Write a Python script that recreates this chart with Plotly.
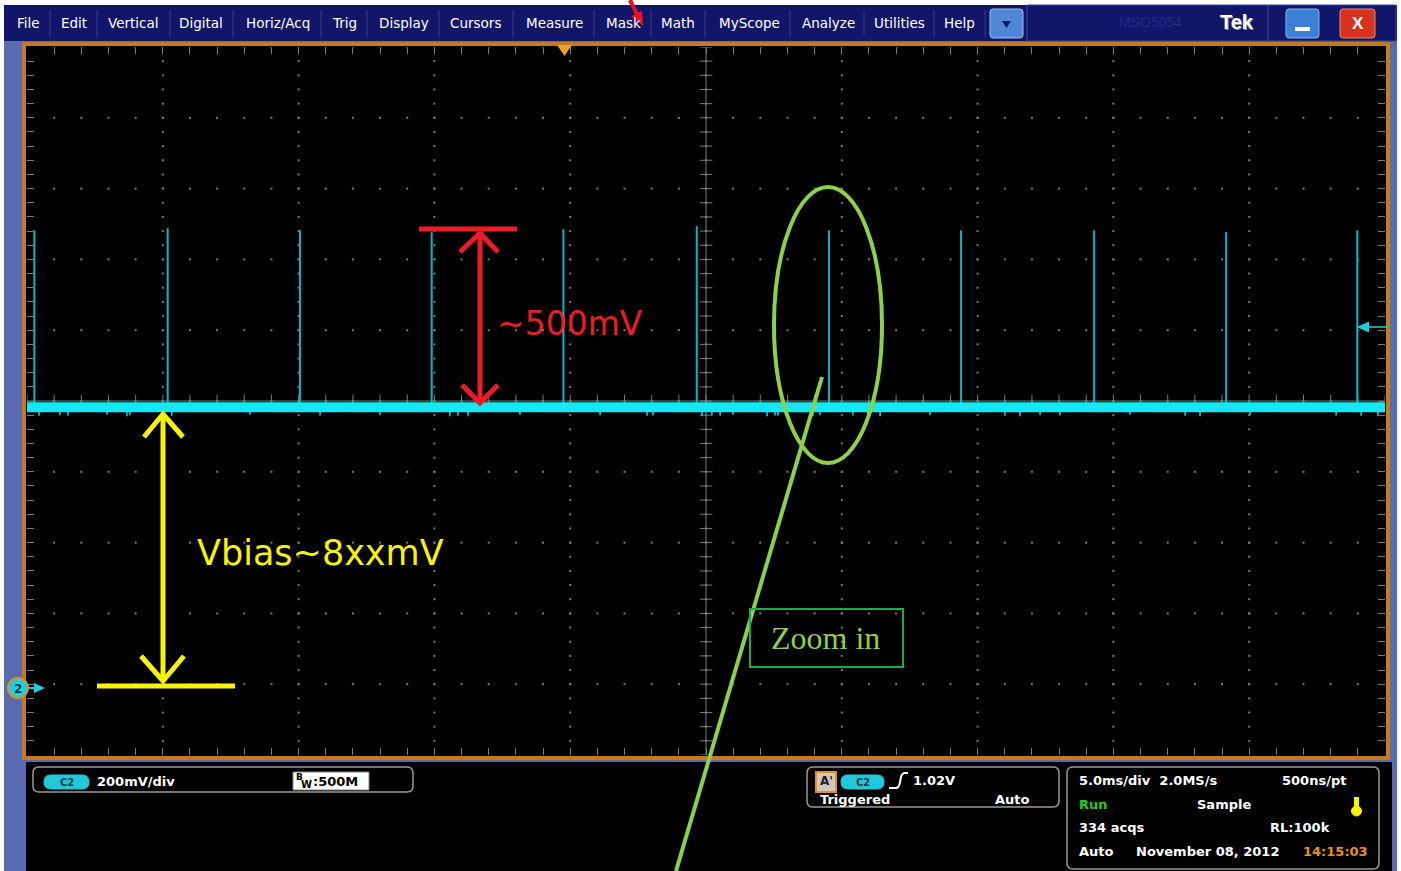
import plotly.graph_objects as go

W, H = 1401, 871

# ---------------- data ----------------
spike_t_ms = [-24.73, -19.82, -14.95, -10.10, -5.25, -0.34, 4.53, 9.39, 14.29, 19.15, 23.98]
spike_peak_v = [1.282, 1.288, 1.282, 1.277, 1.285, 1.294, 1.282, 1.282, 1.282, 1.277, 1.282]
baseline_t_ms = [-25.0, 25.0]
baseline_v = [0.782, 0.782]
glitch_t_ms = [-24.56, -23.79, -23.49, -22.05, -21.32, -21.21, -19.67, -16.79, -14.21, -12.00,
               -9.43, -9.13, -8.76, -6.85, -3.90, -2.17, -1.95, -0.15, 0.22, 0.52, 0.99, 2.25,
               2.54, 2.65, 3.94, 4.20, 5.41, 5.96, 6.41, 8.25, 11.01, 11.56, 12.30, 13.03,
               15.61, 17.64, 18.19, 20.03, 23.20, 24.12, 24.74]
glitch_low_v = [0.758, 0.760, 0.758, 0.761, 0.757, 0.760, 0.758, 0.761, 0.759, 0.760,
                0.757, 0.758, 0.757, 0.761, 0.760, 0.758, 0.759, 0.757, 0.760, 0.758, 0.761, 0.757,
                0.759, 0.758, 0.757, 0.760, 0.759, 0.761, 0.757, 0.760, 0.758, 0.757, 0.760, 0.759,
                0.761, 0.758, 0.757, 0.760, 0.759, 0.758, 0.757]
glitch_top_v = 0.772

x_range_ms = [-25, 25]
y_range_v = [-0.2, 1.8]
div_ms = 5.0
div_v = 0.2
trace_center_v = 0.8

menu_labels = ["File", "Edit", "Vertical", "Digital", "Horiz/Acq", "Trig", "Display", "Cursors",
               "Measure", "Mask", "Math", "MyScope", "Analyze", "Utilities", "Help"]
menu_x = [28, 74, 133, 201, 278, 344, 404, 476, 554, 623, 678, 749, 828, 899, 960]
menu_sep_x = [50, 97, 170, 233, 321, 367, 439, 513, 594, 651, 705, 790, 864, 934, 985]

# ---------------- helpers (pixel -> paper) ----------------
def X(px):
    return px / W

def Y(py):
    return 1 - py / H

shapes = []
annotations = []

def rect(x0, y0, x1, y1, fill=None, line=None, lw=0, layer="below"):
    shapes.append(dict(type="rect", xref="paper", yref="paper",
                       x0=X(x0), x1=X(x1), y0=Y(y1), y1=Y(y0),
                       fillcolor=fill or "rgba(0,0,0,0)",
                       line=dict(color=line or "rgba(0,0,0,0)", width=lw), layer=layer))

def seg(x0, y0, x1, y1, color, w, layer="above"):
    shapes.append(dict(type="line", xref="paper", yref="paper",
                       x0=X(x0), x1=X(x1), y0=Y(y0), y1=Y(y1),
                       line=dict(color=color, width=w), layer=layer))

def poly(pts, color, w=0, fill=None, closed=False, layer="above"):
    d = "M " + " L ".join(f"{X(a):.5f},{Y(b):.5f}" for a, b in pts)
    if closed:
        d += " Z"
    shapes.append(dict(type="path", xref="paper", yref="paper", path=d,
                       fillcolor=fill or "rgba(0,0,0,0)",
                       line=dict(color=color, width=w), layer=layer))

def rrect(x0, y0, x1, y1, r, fill=None, line=None, lw=1, layer="above"):
    P = lambda a, b: f"{X(a):.5f},{Y(b):.5f}"
    d = (f"M {P(x0+r,y0)} L {P(x1-r,y0)} Q {P(x1,y0)} {P(x1,y0+r)} "
         f"L {P(x1,y1-r)} Q {P(x1,y1)} {P(x1-r,y1)} L {P(x0+r,y1)} "
         f"Q {P(x0,y1)} {P(x0,y1-r)} L {P(x0,y0+r)} Q {P(x0,y0)} {P(x0+r,y0)} Z")
    shapes.append(dict(type="path", xref="paper", yref="paper", path=d,
                       fillcolor=fill or "rgba(0,0,0,0)",
                       line=dict(color=line or "rgba(0,0,0,0)", width=lw), layer=layer))

def ellipse(x0, y0, x1, y1, color, w, fill=None):
    shapes.append(dict(type="circle", xref="paper", yref="paper",
                       x0=X(x0), x1=X(x1), y0=Y(y1), y1=Y(y0),
                       fillcolor=fill or "rgba(0,0,0,0)",
                       line=dict(color=color, width=w), layer="above"))

def txt(x, y, s, size, color, family="DejaVu Sans", anchor="center", weight="normal"):
    annotations.append(dict(xref="paper", yref="paper", x=X(x), y=Y(y), text=s,
                            showarrow=False, xanchor=anchor, yanchor="middle",
                            font=dict(size=size, color=color, family=family, weight=weight)))

# ---------------- chrome ----------------
PERI = "#5a6bb0"
NAVY = "#111668"
ORANGE = "#c67a1c"
rect(4, 41, 1397, 871, fill=PERI)
rect(4, 5, 1397, 41, fill=NAVY)
rect(26, 762, 1392, 871, fill="#000000")
rect(24, 44, 1388, 758, fill="#000000", line=ORANGE, lw=4)

for sx in menu_sep_x:
    seg(sx, 10, sx, 37, "#34398a", 1, layer="below")
for lab, mx in zip(menu_labels, menu_x):
    txt(mx, 23, lab, 13.5, "#ffffff")

# dropdown button
rrect(990, 9, 1023, 38, 3, fill="#4f86d6", line="#9cc0f0", lw=1)
poly([(1002, 21), (1011, 21), (1006.5, 28)], "#0a1a60", 0, fill="#0a1a60", closed=True)
# right section
rect(1027, 5, 1396, 41, line="#3a4898", lw=1, layer="above")
seg(1268, 5, 1268, 41, "#3a4898", 1)
txt(1150, 22, "MSO5054", 14, "#1f2a86", family="Liberation Sans")
txt(1238, 23, "Tek", 20, "#8a8a8a", family="Liberation Sans", weight="bold")
txt(1237, 22, "Tek", 20, "#ffffff", family="Liberation Sans", weight="bold")
rrect(1286, 9, 1319, 38, 3, fill="#3c7fd6", line="#8ab4ee", lw=1)
rect(1295, 27, 1310, 31, fill="#ffffff", layer="above")
rrect(1340, 9, 1375, 38, 3, fill="#d6321e", line="#f08a70", lw=1)
txt(1357.5, 23, "X", 17, "#ffffff", family="Liberation Sans", weight="bold")

# red pointer arrow at top (near Mask)
seg(630, 0, 637, 14, "#e8101a", 4)
poly([(643, 26), (631.3, 16.2), (642.1, 10.8)], "#e8101a", 0, fill="#e8101a", closed=True)

# trigger position marker (top)
poly([(557, 45), (572, 45), (564.5, 56)], "#f0a020", 0, fill="#f0a020", closed=True)
# trigger level marker (right)
poly([(1357, 327), (1369, 321.5), (1369, 332.5)], "#18d0e0", 0, fill="#18d0e0", closed=True)
seg(1369, 327, 1388, 327, "#18d0e0", 1.5)
# channel 2 ground marker (left)
seg(28, 688, 36, 688, "#18d0e0", 2)
poly([(45, 688), (34, 683), (34, 693)], "#18d0e0", 0, fill="#18d0e0", closed=True)
ellipse(8, 678, 28, 698, "#e09020", 2, fill="#18d0e0")
txt(18, 688.5, "2", 12, "#0a3040", weight="bold")

# ---------------- drawn annotations ----------------
RED = "#ee1c24"
YEL = "#f8f400"
GRN = "#8dd04a"
seg(419, 229, 517, 229, RED, 5)
seg(480, 234, 480, 401, RED, 5)
poly([(460, 252), (480, 233), (498, 252)], RED, 5)
poly([(462, 385), (480, 403), (498, 385)], RED, 5)
txt(570, 323, "~500mV", 33, RED)

seg(163, 415, 163, 681, YEL, 5)
seg(97, 686, 235, 686, YEL, 5)
poly([(144, 437), (163, 414), (183, 437)], YEL, 5)
poly([(141, 656), (163, 681), (184, 656)], YEL, 5)
txt(320, 553, "Vbias~8xxmV", 35, YEL)

ellipse(774, 187, 882, 463, GRN, 4)
seg(822, 377, 676, 871, GRN, 4)
rect(750, 609, 903, 667, line="#1aaa50", lw=2, layer="above")
txt(825, 638, "Zoom in", 32, GRN, family="Liberation Serif")

# ---------------- bottom panel ----------------
WHITE = "#ffffff"
rrect(33, 767, 413, 792, 6, line="#9a9a9a", lw=1.5)
rrect(44, 775, 89, 789, 7, fill="#20c8d8", line="#20c8d8", lw=1)
txt(66.5, 782, "C2", 10, "#0a3a4a", weight="bold")
txt(95, 781, "200mV/div", 13, WHITE, anchor="left", weight="bold")
rect(293, 772, 369, 790, fill="#ffffff", line="#808080", lw=1, layer="above")
txt(299, 777, "B", 9, "#000000", weight="bold")
txt(306, 784, "W", 10, "#000000", weight="bold")
txt(311, 781, ":500M", 13, "#000000", anchor="left", weight="bold")

rrect(807, 767, 1059, 807, 6, line="#9a9a9a", lw=1.5)
rect(816, 772, 836, 792, fill="#d0c8c0", line="#e8901a", lw=2, layer="above")
txt(826, 781, "A'", 12, "#202020", weight="bold")
rrect(841, 775, 884, 789, 7, fill="#20c8d8", line="#20c8d8", lw=1)
txt(862.5, 782, "C2", 10, "#0a3a4a", weight="bold")
shapes.append(dict(type="path", xref="paper", yref="paper",
                   path=(f"M {X(889):.5f},{Y(788):.5f} L {X(896):.5f},{Y(788):.5f} "
                         f"Q {X(899):.5f},{Y(788):.5f} {X(900):.5f},{Y(782):.5f} "
                         f"L {X(901):.5f},{Y(777):.5f} Q {X(902):.5f},{Y(773):.5f} {X(905):.5f},{Y(773):.5f} "
                         f"L {X(908):.5f},{Y(773):.5f}"),
                   line=dict(color=WHITE, width=2), layer="above"))
txt(911, 780, "1.02V", 13, WHITE, anchor="left", weight="bold")
txt(818, 799, "Triggered", 13, WHITE, anchor="left", weight="bold")
txt(1032, 799, "Auto", 13, WHITE, anchor="right", weight="bold")

rrect(1067, 767, 1379, 869, 6, line="#9a9a9a", lw=1.5)
txt(1077, 780, "5.0ms/div  2.0MS/s", 13, WHITE, anchor="left", weight="bold")
txt(1348, 780, "500ns/pt", 13, WHITE, anchor="right", weight="bold")
txt(1077, 804, "Run", 13, "#22cc22", anchor="left", weight="bold")
txt(1195, 804, "Sample", 13, WHITE, anchor="left", weight="bold")
rect(1354, 797, 1359, 810, fill=YEL, layer="above")
ellipse(1351.5, 806, 1361.5, 816, YEL, 1, fill=YEL)
txt(1077, 827, "334 acqs", 13, WHITE, anchor="left", weight="bold")
txt(1332, 827, "RL:100k", 13, WHITE, anchor="right", weight="bold")
txt(1077, 851, "Auto", 13, WHITE, anchor="left", weight="bold")
txt(1134, 851, "November 08, 2012", 13, WHITE, anchor="left", weight="bold")
txt(1370, 851, "14:15:03", 13, "#e8921a", anchor="right", weight="bold")

# ---------------- graticule (from axis ranges) ----------------
GRID = "#7a7a7a"
n_xdiv = int(round((x_range_ms[1] - x_range_ms[0]) / div_ms))
n_ydiv = int(round((y_range_v[1] - y_range_v[0]) / div_v))
major_x = [x_range_ms[0] + i * div_ms for i in range(n_xdiv + 1)]
major_y = [y_range_v[0] + i * div_v for i in range(n_ydiv + 1)]
minor_x = [x_range_ms[0] + i * div_ms / 5 for i in range(n_xdiv * 5 + 1)]
minor_y = [y_range_v[0] + i * div_v / 5 for i in range(n_ydiv * 5 + 1)]
dot_x, dot_y = [], []
for mx in major_x[1:-1]:
    for my in minor_y[1:-1]:
        dot_x.append(mx); dot_y.append(my)
for my in major_y[1:-1]:
    for mx in minor_x[1:-1]:
        dot_x.append(mx); dot_y.append(my)

shapes.append(dict(type="line", xref="x", yref="y", x0=0, x1=0, y0=y_range_v[0], y1=y_range_v[1],
                   line=dict(color=GRID, width=1), layer="below"))
shapes.append(dict(type="line", xref="x", yref="y", x0=x_range_ms[0], x1=x_range_ms[1],
                   y0=trace_center_v, y1=trace_center_v, line=dict(color=GRID, width=1), layer="below"))

fig = go.Figure()
fig.add_trace(go.Scatter(x=dot_x, y=dot_y, mode="markers", hoverinfo="skip",
                         marker=dict(size=2, color=GRID, symbol="square")))
fig.add_trace(go.Scatter(x=[0] * len(minor_y), y=minor_y, mode="markers", hoverinfo="skip",
                         marker=dict(symbol="line-ew", size=9, line=dict(color=GRID, width=1))))
fig.add_trace(go.Scatter(x=minor_x, y=[trace_center_v] * len(minor_x), mode="markers", hoverinfo="skip",
                         marker=dict(symbol="line-ns", size=9, line=dict(color=GRID, width=1))))

# ---------------- waveform ----------------
sx, sy = [], []
for t, p in zip(spike_t_ms, spike_peak_v):
    sx += [t, t, None]
    sy += [baseline_v[0], p, None]
fig.add_trace(go.Scatter(x=sx, y=sy, mode="lines", hoverinfo="skip",
                         line=dict(color="#00b8c6", width=2)))
gx, gy = [], []
for t, lo in zip(glitch_t_ms, glitch_low_v):
    gx += [t, t, None]
    gy += [glitch_top_v, lo, None]
fig.add_trace(go.Scatter(x=gx, y=gy, mode="lines", hoverinfo="skip",
                         line=dict(color="#12d8e6", width=1.5)))
fig.add_trace(go.Scatter(x=baseline_t_ms, y=baseline_v, mode="lines", hoverinfo="skip",
                         line=dict(color="#14e8f2", width=10)))

axis_common = dict(showgrid=False, zeroline=False, showticklabels=False, ticks="inside",
                   ticklen=7, tickwidth=1, tickcolor=GRID, showline=True, linecolor="#000000",
                   linewidth=1, mirror="ticks", fixedrange=True)
fig.update_layout(
    width=W, height=H, margin=dict(l=0, r=0, t=0, b=0),
    paper_bgcolor="#ffffff", plot_bgcolor="#000000", showlegend=False,
    xaxis=dict(range=x_range_ms, domain=[X(27), X(1385)], tick0=x_range_ms[0], dtick=div_ms / 5,
               **axis_common),
    yaxis=dict(range=y_range_v, domain=[Y(755), Y(47)], tick0=y_range_v[0], dtick=div_v / 5,
               **axis_common),
    shapes=shapes, annotations=annotations,
)
fig.write_html("out.html", config={"displayModeBar": False},
               post_script="document.body.style.margin='0';document.body.style.overflow='hidden';")
